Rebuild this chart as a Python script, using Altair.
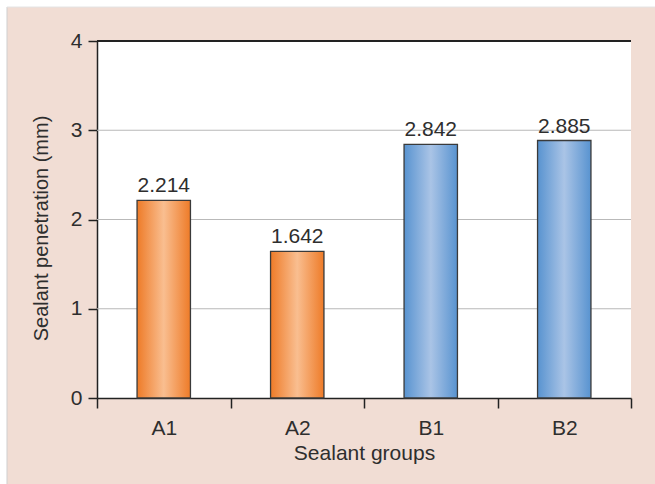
import altair as alt
import pandas as pd

groups = ["A1", "A2", "B1", "B2"]
values = [2.214, 1.642, 2.842, 2.885]
families = ["A", "A", "B", "B"]
y_ticks = [0, 1, 2, 3, 4]
grid_values = [1, 2, 3]

df = pd.DataFrame({"group": groups, "value": values, "family": families})
grid_df = pd.DataFrame({"g": grid_values})
one = pd.DataFrame({"k": [0]})

FONT = "Liberation Sans"
TEXT = "#2e2e2e"
PINK = "#F1DDD4"
FS = 21

orange_grad = alt.LinearGradient(
    gradient="linear", x1=0, x2=1, y1=0, y2=0,
    stops=[alt.GradientStop(color="#EE7B28", offset=0),
           alt.GradientStop(color="#F9BE90", offset=0.5),
           alt.GradientStop(color="#EE7B28", offset=1)])
blue_grad = alt.LinearGradient(
    gradient="linear", x1=0, x2=1, y1=0, y2=0,
    stops=[alt.GradientStop(color="#5893D0", offset=0),
           alt.GradientStop(color="#AAC4E6", offset=0.5),
           alt.GradientStop(color="#5893D0", offset=1)])

x_axis = alt.Axis(title="Sealant groups", labelAngle=0, tickBand="extent",
                  tickSize=10, labelPadding=9, labelFontSize=FS,
                  titleFontSize=FS, titlePadding=4, grid=False,
                  domainColor="#222", tickColor="#222",
                  domainWidth=1.5, tickWidth=1.5)
x_enc = alt.X("group:N", sort=groups,
              scale=alt.Scale(paddingInner=0, paddingOuter=0), axis=x_axis)
y_scale = alt.Scale(domain=[0, 4], nice=False)
y_axis = alt.Axis(title="Sealant penetration (mm)", values=y_ticks, format="d",
                  tickSize=9, labelPadding=6, labelFontSize=FS,
                  titleFontSize=20, titlePadding=19, titleY=187, grid=False,
                  domainColor="#222", tickColor="#222",
                  domainWidth=1.5, tickWidth=1.5)
y_enc = alt.Y("value:Q", scale=y_scale, axis=y_axis)

base = alt.Chart(df)

grid = alt.Chart(grid_df).mark_rule(color="#B9B9B9", strokeWidth=1.2).encode(
    y=alt.Y("g:Q", scale=y_scale, axis=y_axis))

top_line = base.mark_rule(color="#222", strokeWidth=1.5).encode(y=alt.datum(4))

bars_a = base.transform_filter(alt.datum.family == "A").mark_bar(
    fill=orange_grad, stroke="#3a3a3a", strokeWidth=1.3,
    width=alt.RelativeBandSize(0.4)).encode(x=x_enc, y=y_enc)
bars_b = base.transform_filter(alt.datum.family == "B").mark_bar(
    fill=blue_grad, stroke="#3a3a3a", strokeWidth=1.3,
    width=alt.RelativeBandSize(0.4)).encode(x=x_enc, y=y_enc)

labels = base.mark_text(baseline="alphabetic", dy=-8, fontSize=FS, font=FONT,
                        color=TEXT).encode(
    x=x_enc,
    y=y_enc,
    text=alt.Text("value:Q", format=".3f"))

strip_top = alt.Chart(one).mark_rect(color="white").encode(
    x=alt.value(-97), x2=alt.value(600), y=alt.value(-41), y2=alt.value(-34))
strip_left = alt.Chart(one).mark_rect(color="white").encode(
    x=alt.value(-97), x2=alt.value(-90), y=alt.value(-41), y2=alt.value(500))
edge_left = alt.Chart(one).mark_rule(color="#CFCFCF", strokeWidth=1).encode(
    x=alt.value(-90), y=alt.value(-34), y2=alt.value(500))
edge_top = alt.Chart(one).mark_rule(color="#E4E4E4", strokeWidth=1).encode(
    x=alt.value(-90), x2=alt.value(600), y=alt.value(-34))

chart = alt.layer(
    grid, top_line, bars_a, bars_b, labels,
    strip_top, strip_left, edge_left, edge_top
).properties(
    width=534, height=357,
    autosize=alt.AutoSizeParams(type="none"),
    padding={"left": 97, "top": 41, "right": 24, "bottom": 86},
    background=PINK,
).configure_view(
    fill="white", stroke=None
).configure_axis(
    labelFont=FONT, titleFont=FONT, labelColor=TEXT, titleColor=TEXT,
    titleFontWeight="normal"
)

chart.save("out.html", embed_options={"renderer": "svg", "actions": False})
